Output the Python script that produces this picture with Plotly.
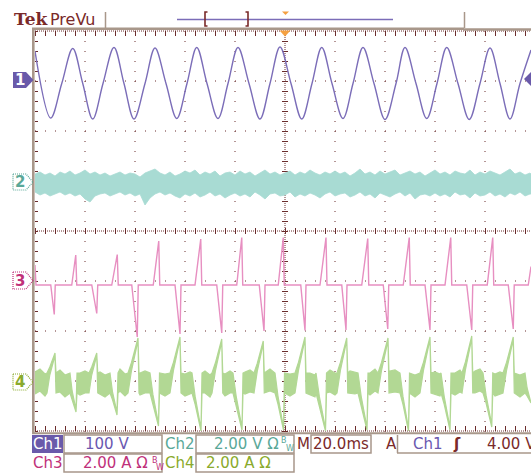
import plotly.graph_objects as go

# ---------------- data (time in ms, values in divisions re. channel ground) ----------------
ch_offset = {"Ch1": 3, "Ch2": 1, "Ch3": -1, "Ch4": -3}

# Ch1: sine-like line, key points (troughs, crossings, peaks)
ch1_t = [-100, -93.7, -89.3, -84.9, -80.9, -76.9, -72.8, -68.4, -64.4, -60.4, -56.0, -52.0,
         -47.6, -43.3, -39.2, -35.3, -31.2, -26.8, -22.8, -18.8, -14.4, -10.0, -6.0, -2.0,
         2.4, 6.7, 10.8, 14.7, 18.8, 23.2, 27.2, 31.2, 35.6, 40.0, 44.4, 48.0,
         52.4, 56.7, 60.8, 64.7, 69.2, 73.7, 78.0, 82.0, 86.0, 90.0, 94.0, 98.4]
ch1_v = [0.60, -0.74, -0.05, 0.65, -0.05, -0.76, -0.05, 0.67, -0.05, -0.76, -0.05, 0.66,
         -0.05, -0.75, -0.05, 0.67, -0.05, -0.75, -0.05, 0.67, -0.05, -0.76, -0.05, 0.68,
         -0.05, -0.76, -0.05, 0.67, -0.05, -0.75, -0.05, 0.67, -0.05, -0.77, -0.05, 0.67,
         -0.05, -0.75, -0.05, 0.67, -0.05, -0.77, -0.05, 0.66, -0.05, -0.76, -0.05, 0.62]

# Ch2 / Ch4 noise band sample times (ms)
band_t = [-100, -98, -96, -94, -92, -90, -88, -86, -84, -82,
          -80, -78, -76, -74, -72, -70, -68, -66, -64, -62,
          -60, -58, -56, -54, -52, -50, -48, -46, -44, -42,
          -40, -38, -36, -34, -32, -30, -28, -26, -24, -22,
          -20, -18, -16, -14, -12, -10, -8, -6, -4, -2,
          0, 2, 4, 6, 8, 10, 12, 14, 16, 18,
          20, 22, 24, 26, 28, 30, 32, 34, 36, 38,
          40, 42, 44, 46, 48, 50, 52, 54, 56, 58,
          60, 62, 64, 66, 68, 70, 72, 74, 76, 78,
          80, 82, 84, 86, 88, 90, 92, 94, 96, 98, 98.4]
ch2_upper = [0.14, 0.18, 0.12, 0.16, 0.10, 0.18, 0.14, 0.20, 0.12, 0.16,
             0.22, 0.14, 0.18, 0.12, 0.16, 0.10, 0.14, 0.18, 0.12, 0.16,
             0.14, 0.08, 0.16, 0.20, 0.24, 0.16, 0.12, 0.18, 0.10, 0.14,
             0.20, 0.16, 0.22, 0.12, 0.18, 0.14, 0.20, 0.10, 0.16, 0.18,
             0.12, 0.20, 0.14, 0.18, 0.10, 0.16, 0.22, 0.14, 0.18, 0.12,
             0.16, 0.20, 0.12, 0.18, 0.14, 0.22, 0.16, 0.12, 0.18, 0.14,
             0.20, 0.14, 0.18, 0.10, 0.16, 0.24, 0.14, 0.18, 0.12, 0.20,
             0.14, 0.18, 0.22, 0.12, 0.16, 0.20, 0.14, 0.18, 0.10, 0.16,
             0.22, 0.14, 0.18, 0.12, 0.20, 0.16, 0.14, 0.22, 0.12, 0.18,
             0.14, 0.20, 0.16, 0.12, 0.18, 0.24, 0.14, 0.18, 0.12, 0.16, 0.14]
ch2_lower = [-0.22, -0.28, -0.24, -0.30, -0.26, -0.22, -0.28, -0.24, -0.30, -0.26,
             -0.36, -0.42, -0.30, -0.26, -0.24, -0.30, -0.26, -0.22, -0.28, -0.24,
             -0.30, -0.26, -0.48, -0.34, -0.26, -0.22, -0.28, -0.24, -0.30, -0.34,
             -0.26, -0.30, -0.24, -0.32, -0.28, -0.22, -0.30, -0.26, -0.34, -0.28,
             -0.24, -0.30, -0.26, -0.32, -0.22, -0.28, -0.36, -0.26, -0.24, -0.30,
             -0.28, -0.22, -0.32, -0.26, -0.30, -0.24, -0.28, -0.34, -0.26, -0.22,
             -0.30, -0.26, -0.24, -0.32, -0.28, -0.22, -0.30, -0.26, -0.34, -0.24,
             -0.28, -0.32, -0.26, -0.22, -0.30, -0.24, -0.36, -0.28, -0.26, -0.30,
             -0.24, -0.30, -0.26, -0.32, -0.22, -0.28, -0.26, -0.34, -0.24, -0.30,
             -0.28, -0.22, -0.30, -0.26, -0.32, -0.24, -0.28, -0.22, -0.30, -0.26, -0.26]

# Ch3: current spikes on a flat baseline
ch3_base = -0.08
ch3_edge_v = [0.32, 0.29]          # value at left edge, value at right edge
ch3_pos_start = [-85.3, -69.3, -52.7, -36.0, -19.3, -2.7, 14.0, 30.7, 47.3, 64.0, 80.9]
ch3_pos_peak_t = [-83.7, -67.1, -50.5, -33.7, -17.3, -0.7, 16.4, 33.1, 49.7, 66.3, 83.1]
ch3_pos_peak_v = [0.52, 0.53, 0.80, 0.84, 0.87, 0.87, 0.87, 0.85, 0.87, 0.87, 0.87]
ch3_neg_start = [-93.7, -77.3, -61.3, -44.0, -27.3, -10.3, 6.3, 22.7, 39.3, 56.0, 72.7, 89.3]
ch3_neg_peak_t = [-92.3, -75.3, -59.1, -42.0, -25.3, -8.4, 8.0, 24.4, 41.1, 58.0, 74.7, 91.3]
ch3_neg_peak_v = [-0.67, -0.65, -1.12, -1.06, -1.04, -1.00, -0.99, -0.98, -0.96, -0.98, -0.98, -0.96]

# Ch4: noisy band with spikes
ch4_upper = [0.18, 0.24, 0.14, 0.20, 0.16, 0.22, 0.12, 0.18, 0.24, 0.16,
             0.20, 0.14, 0.22, 0.18, 0.12, 0.20, 0.16, 0.24, 0.14, 0.18,
             0.22, 0.16, 0.20, 0.12, 0.18, 0.24, 0.14, 0.20, 0.16, 0.22,
             0.14, 0.18, 0.24, 0.16, 0.20, 0.12, 0.22, 0.18, 0.14, 0.20,
             0.24, 0.16, 0.18, 0.22, 0.14, 0.20, 0.16, 0.24, 0.12, 0.18,
             0.20, 0.14, 0.22, 0.18, 0.24, 0.16, 0.12, 0.20, 0.18, 0.22,
             0.16, 0.24, 0.14, 0.20, 0.18, 0.12, 0.22, 0.16, 0.24, 0.18,
             0.14, 0.20, 0.22, 0.16, 0.18, 0.24, 0.12, 0.20, 0.16, 0.22,
             0.18, 0.14, 0.24, 0.20, 0.16, 0.22, 0.18, 0.12, 0.20, 0.24,
             0.16, 0.22, 0.14, 0.18, 0.24, 0.20, 0.16, 0.12, 0.22, 0.18, 0.16]
ch4_lower = [-0.26, -0.20, -0.30, -0.24, -0.28, -0.22, -0.32, -0.26, -0.20, -0.28,
             -0.24, -0.30, -0.22, -0.26, -0.32, -0.24, -0.28, -0.20, -0.30, -0.26,
             -0.22, -0.28, -0.24, -0.32, -0.26, -0.20, -0.30, -0.24, -0.28, -0.22,
             -0.30, -0.26, -0.20, -0.28, -0.24, -0.32, -0.22, -0.26, -0.30, -0.24,
             -0.20, -0.28, -0.26, -0.22, -0.30, -0.24, -0.28, -0.20, -0.32, -0.26,
             -0.24, -0.30, -0.22, -0.26, -0.20, -0.28, -0.32, -0.24, -0.26, -0.22,
             -0.28, -0.20, -0.30, -0.24, -0.26, -0.32, -0.22, -0.28, -0.20, -0.26,
             -0.30, -0.24, -0.22, -0.28, -0.26, -0.20, -0.32, -0.24, -0.28, -0.22,
             -0.26, -0.30, -0.20, -0.24, -0.28, -0.22, -0.26, -0.32, -0.24, -0.20,
             -0.28, -0.22, -0.30, -0.26, -0.20, -0.24, -0.28, -0.32, -0.22, -0.26, -0.26]
ch4_band_nom = [0.16, -0.24]
ch4_up_start = [-95.2, -78.4, -62.8, -46.0, -29.2, -12.4, 4.0, 20.8, 37.2, 54.0, 70.8, 87.2]
ch4_up_peak_t = [-92.0, -75.3, -58.8, -42.0, -25.3, -8.7, 8.0, 24.7, 41.2, 58.0, 74.7, 91.3]
ch4_up_peak_v = [0.56, 0.56, 0.86, 0.88, 0.84, 0.80, 0.88, 0.86, 0.86, 0.88, 0.90, 0.88]
ch4_dn_start = [-86.0, -70.0, -54.0, -37.2, -20.8, -4.0, 12.4, 29.2, 46.0, 62.4, 79.2, 96.0]
ch4_dn_peak_t = [-83.6, -67.2, -50.6, -33.6, -17.2, -0.6, 16.2, 32.8, 49.4, 66.0, 82.7, 98.4]
ch4_dn_peak_v = [-0.62, -0.68, -0.90, -1.00, -0.98, -0.98, -1.00, -0.98, -1.00, -0.98, -0.92, -0.44]

# ---------------- colours ----------------
C1, C2, C3, C4 = "#7b6db8", "#a8dbd3", "#e78fc1", "#b2d894"
T1, T2, T3, T4 = "#6a58b0", "#5aa898", "#c0307a", "#8aaa2c"
BROWN = "#7a2a2a"
GRID = "#6b2c2c"
FRAME = "#a8978a"
ORANGE = "#f5a040"

X0, X1, Y0, Y1 = 35.0, 531.0, 31.0, 431.0
def px(x): return (x - X0) / (X1 - X0)
def py(y): return (Y1 - y) / (Y1 - Y0)

fig = go.Figure()

# ---- Ch2 band
o = ch_offset["Ch2"]
fig.add_trace(go.Scatter(x=band_t + band_t[::-1],
                         y=[o + v for v in ch2_upper] + [o + v for v in ch2_lower[::-1]],
                         fill="toself", fillcolor=C2, mode="lines",
                         line=dict(color=C2, width=0.8), hoverinfo="skip"))

# ---- Ch4 band with spikes
events4 = []
for s, p, v in zip(ch4_up_start, ch4_up_peak_t, ch4_up_peak_v):
    m = s + 0.35 * (p - s)
    um = ch4_band_nom[0] + 0.3 * (v - ch4_band_nom[0])
    events4.append((s, p, [(m, um, um - 0.16), (p, v, v - 0.05)]))
for s, p, v in zip(ch4_dn_start, ch4_dn_peak_t, ch4_dn_peak_v):
    m = s + 0.35 * (p - s)
    lm = ch4_band_nom[1] + 0.3 * (v - ch4_band_nom[1])
    events4.append((s, p, [(m, lm + 0.16, lm), (p, v + 0.05, v)]))
verts = []
for t, u, l in zip(band_t, ch4_upper, ch4_lower):
    if not any(s - 0.3 <= t <= p + 0.7 for s, p, _ in events4):
        verts.append((t, u, l))
for s, p, pts in events4:
    verts.append((s, ch4_band_nom[0], ch4_band_nom[1]))
    verts += pts
    if p + 0.4 <= 98.4:
        verts.append((p + 0.4, ch4_band_nom[0], ch4_band_nom[1]))
verts.sort()
o = ch_offset["Ch4"]
tt = [v[0] for v in verts]
fig.add_trace(go.Scatter(x=tt + tt[::-1],
                         y=[o + v[1] for v in verts] + [o + v[2] for v in verts[::-1]],
                         fill="toself", fillcolor=C4, mode="lines",
                         line=dict(color=C4, width=1.2), hoverinfo="skip"))

# ---- Ch3 line
events3 = sorted(list(zip(ch3_pos_start, ch3_pos_peak_t, ch3_pos_peak_v)) +
                 list(zip(ch3_neg_start, ch3_neg_peak_t, ch3_neg_peak_v)))
x3 = [-100.0, -99.6]
y3 = [ch3_edge_v[0], ch3_base]
for s, p, v in events3:
    x3 += [s, p, p + 0.4]
    y3 += [ch3_base, v, ch3_base]
x3 += [97.3, 98.4]
y3 += [ch3_base, ch3_edge_v[1]]
o = ch_offset["Ch3"]
fig.add_trace(go.Scatter(x=x3, y=[o + v for v in y3], mode="lines",
                         line=dict(color=C3, width=1.4), hoverinfo="skip"))

# ---- Ch1 line
o = ch_offset["Ch1"]
fig.add_trace(go.Scatter(x=ch1_t, y=[o + v for v in ch1_v], mode="lines",
                         line=dict(color=C1, width=1.4, shape="spline", smoothing=1.0),
                         hoverinfo="skip"))

shapes = []
def line(x0, y0, x1, y1, color, width=1.0, dash=None, layer="above"):
    d = dict(type="line", xref="paper", yref="paper", x0=px(x0), y0=py(y0), x1=px(x1), y1=py(y1),
             line=dict(color=color, width=width), layer=layer)
    if dash:
        d["line"]["dash"] = dash
    shapes.append(d)

def path(pts, fill=None, color=None, width=1.0, dash=None, layer="above", close=True):
    p = "M" + " L".join(f"{px(x):.5f},{py(y):.5f}" for x, y in pts) + (" Z" if close else "")
    d = dict(type="path", xref="paper", yref="paper", path=p, layer=layer,
             line=dict(color=color or "rgba(0,0,0,0)", width=width if color else 0))
    if dash:
        d["line"]["dash"] = dash
    if fill:
        d["fillcolor"] = fill
    shapes.append(d)

# graticule
for k in range(1, 10):
    x = 35 + 50 * k
    if k == 5:
        continue
    line(x, 31, x, 433, GRID, 1, "1px,9px", "below")
for k in range(1, 8):
    y = 31 + 50 * k
    if k == 4:
        continue
    line(35, y, 531, y, GRID, 1, "1px,9px", "below")
# center lines with minor ticks
line(285, 31, 285, 433, GRID, 1, "1px,1px", "below")
line(35, 231, 531, 231, GRID, 1, "1px,1px", "below")
line(285, 31, 285, 433, GRID, 6, "1px,9px", "below")
line(35, 231, 531, 231, GRID, 6, "1px,9px", "below")
# edge ticks
line(35, 33.5, 531, 33.5, GRID, 5, "1px,9px", "below")
line(35, 428.5, 531, 428.5, GRID, 5, "1px,9px", "below")
line(36.5, 31, 36.5, 433, GRID, 3, "1px,9px", "below")
line(35, 31, 531, 31, GRID, 1, "1px,1px", "below")
line(35, 431, 531, 431, GRID, 1, "1px,1px", "below")

# frame
line(33.3, 28, 33.3, 434, FRAME, 2.6)
line(32, 28.7, 464, 28.7, FRAME, 2.6)
line(464, 29.5, 531, 29.5, FRAME, 2.6)
line(32, 433.3, 531, 433.3, FRAME, 2)
line(105.5, 12, 105.5, 28, FRAME, 1.5)
line(464.5, 12, 464.5, 28, FRAME, 1.5)

# record view bar
line(177, 19.5, 393, 19.5, C1, 1.5)
path([(207.5, 12), (205, 12), (205, 26), (207.5, 26)], color=BROWN, width=1.6, close=False)
path([(245.5, 12), (248, 12), (248, 26), (245.5, 26)], color=BROWN, width=1.6, close=False)
path([(282, 11.5), (289, 11.5), (285.5, 15)], fill=ORANGE)
path([(279.5, 30.5), (290.5, 30.5), (285, 36.5)], fill=ORANGE)

# channel markers
path([(13, 72), (26, 72), (33.5, 80), (26, 88), (13, 88)], fill="#6a5aaa")
path([(13, 174), (26, 174), (33, 182), (26, 190), (13, 190)], color=T2, width=1.2, dash="1px,1px")
path([(13, 272), (26, 272), (33, 280.5), (26, 289), (13, 289)], color=T3, width=1.2, dash="1px,1px")
path([(13, 374), (26, 374), (33, 382), (26, 390), (13, 390)], color=T4, width=1.2, dash="1px,1px")
path([(531, 72), (531, 86), (524, 79)], fill="#6a5aaa")

# bottom boxes
def rect(x0, y0, x1, y1, fill=None, color=FRAME, width=1.5):
    shapes.append(dict(type="rect", xref="paper", yref="paper", x0=px(x0), y0=py(y0),
                       x1=px(x1), y1=py(y1), layer="above",
                       line=dict(color=color if color else "rgba(0,0,0,0)", width=width if color else 0),
                       fillcolor=fill or "rgba(0,0,0,0)"))
rect(32, 435, 63, 453, fill="#6a5aaa", color=None)
rect(64, 435, 162, 453)
rect(196, 435, 294, 453)
rect(311, 435, 371, 453)
rect(64, 454, 162, 472)
rect(196, 454, 294, 472)
line(397.5, 435, 397.5, 453, FRAME, 1.5)
line(397, 453, 531, 453, FRAME, 1.5)

ann = []
def text(x, y, s, color, size=15, anchor="center", family="DejaVu Sans", bold=False):
    if bold:
        s = "<b>" + s + "</b>"
    ann.append(dict(x=px(x), y=py(y), xref="paper", yref="paper", text=s, showarrow=False,
                    xanchor=anchor, yanchor="middle", font=dict(color=color, size=size, family=family)))

text(12, 18.5, "Tek", BROWN, 17, "left", "DejaVu Serif", True)
text(48, 19.5, "PreVu", BROWN, 16, "left")
text(19.5, 80, "1", "white", 15, "center", bold=True)
text(19.5, 182, "2", T2, 15, "center", bold=True)
text(19.5, 281, "3", T3, 15, "center", bold=True)
text(19.5, 382, "4", T4, 15, "center", bold=True)

text(47.5, 444, "Ch1", "white", 15)
text(107, 444, "100 V", T1, 15)
text(180, 444, "Ch2", T2, 15)
text(212, 444, "2.00 V Ω", T2, 15, "left")
text(284, 441, "B", T2, 8)
text(289.5, 448, "W", T2, 8)
text(303, 444, "M", BROWN, 15)
text(341, 444, "20.0ms", BROWN, 15)
text(391, 444, "A", BROWN, 15)
text(411, 444, "Ch1", T1, 15, "left")
text(457, 444, "ʃ", BROWN, 15, bold=True)
text(485, 444, "4.00 V", BROWN, 15, "left")
text(47.5, 463, "Ch3", T3, 15)
text(81, 463, "2.00 A Ω", T3, 15, "left")
text(155, 460, "B", T3, 8)
text(160, 467, "W", T3, 8)
text(180, 463, "Ch4", T4, 15)
text(204, 463, "2.00 A Ω", T4, 15, "left")

fig.update_layout(
    width=531, height=473,
    margin=dict(l=35, r=0, t=31, b=42, pad=0),
    plot_bgcolor="white", paper_bgcolor="white",
    showlegend=False,
    xaxis=dict(range=[-100, 98.4], showgrid=False, zeroline=False, showticklabels=False,
               ticks="", showline=False, fixedrange=True),
    yaxis=dict(range=[-4, 4], showgrid=False, zeroline=False, showticklabels=False,
               ticks="", showline=False, fixedrange=True),
    shapes=shapes, annotations=ann,
)

fig.write_html("out.html", config={"displayModeBar": False},
               post_script=["document.body.style.margin='0';document.body.style.overflow='hidden';"])
